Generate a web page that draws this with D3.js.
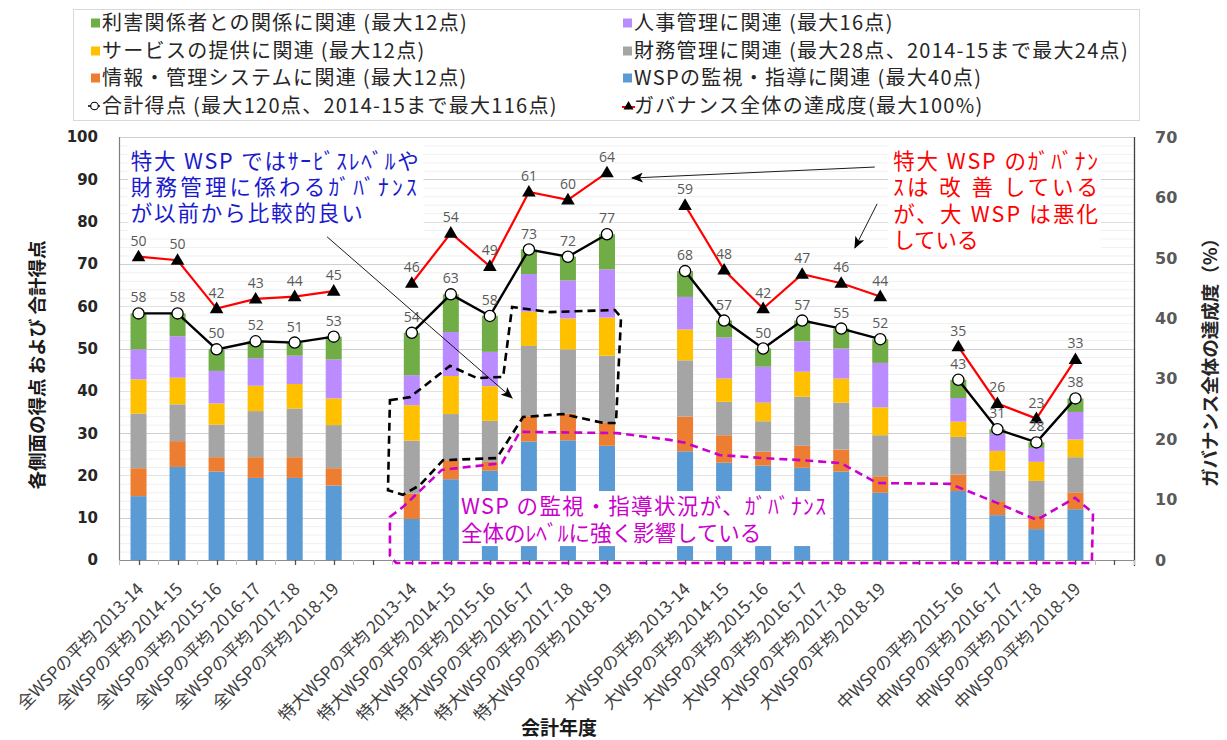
<!DOCTYPE html>
<html>
<head>
<meta charset="utf-8">
<script src="https://cdn.jsdelivr.net/npm/d3@7"></script>
<style>
  body { margin: 0; background: #ffffff; }
  text { font-family: "Noto Sans CJK JP", "Noto Sans", sans-serif; }
</style>
</head>
<body>
<svg id="chart" width="1227" height="740"></svg>
<script>
// ---- data -------------------------------------------------------------
// One slot per category; null marks the empty spacer slot between groups.
const categories = [
  "全WSPの平均 2013-14", "全WSPの平均 2014-15", "全WSPの平均 2015-16",
  "全WSPの平均 2016-17", "全WSPの平均 2017-18", "全WSPの平均 2018-19",
  null,
  "特大WSPの平均 2013-14", "特大WSPの平均 2014-15", "特大WSPの平均 2015-16",
  "特大WSPの平均 2016-17", "特大WSPの平均 2017-18", "特大WSPの平均 2018-19",
  null,
  "大WSPの平均 2013-14", "大WSPの平均 2014-15", "大WSPの平均 2015-16",
  "大WSPの平均 2016-17", "大WSPの平均 2017-18", "大WSPの平均 2018-19",
  null,
  "中WSPの平均 2015-16", "中WSPの平均 2016-17", "中WSPの平均 2017-18", "中WSPの平均 2018-19",
  null
];

// Scores per governance aspect (stacked bottom → top)
const monitoring  = [15.1, 22.0, 20.9, 19.4, 19.4, 17.6, null,  9.7, 19.1, 21.1, 28.0, 28.3, 27.0, null, 25.7, 23.0, 22.3, 21.8, 20.9, 15.9, null, 16.3, 10.6, 7.3, 12.0, null];
const infoSystem  = [ 6.6,  6.1,  3.4,  4.9,  4.9,  4.1, null,  6.0,  4.5,  2.1,  6.0,  6.3,  5.4, null,  8.2,  6.5,  3.3,  5.2,  5.2,  3.9, null,  3.9,  3.3, 3.1,  4.0, null];
const finance     = [12.9,  8.7,  7.7, 10.9, 11.5, 10.2, null, 12.5, 10.9,  9.7, 16.6, 15.2, 15.9, null, 13.3,  7.9,  7.2, 11.6, 11.1,  9.7, null,  8.9,  7.2, 8.3,  8.3, null];
const service     = [ 8.1,  6.3,  5.0,  6.0,  5.8,  6.3, null,  8.4,  9.0,  8.2,  8.1,  7.3,  9.0, null,  7.3,  5.5,  4.4,  5.9,  5.7,  6.6, null,  3.6,  4.7, 4.5,  4.2, null];
const personnel   = [ 7.1,  9.8,  7.7,  6.5,  6.7,  9.2, null,  7.1, 10.4,  8.1,  8.9,  9.0, 11.4, null,  7.7,  9.7,  8.5,  7.2,  7.1, 10.5, null,  5.6,  4.1, 3.3,  6.5, null];
const stakeholder = [ 8.5,  5.4,  5.1,  4.0,  3.1,  5.4, null, 10.0,  8.9,  8.5,  5.8,  5.6,  8.3, null,  6.1,  4.0,  4.3,  4.9,  4.7,  5.6, null,  4.3,  1.0, 1.3,  3.2, null];

// Overall governance achievement (%) – right axis
const achievement = [50.2, 49.6, 41.6, 43.2, 43.6, 44.5, null, 45.8, 54.1, 48.6, 60.9, 59.6, 64.1, null, 58.7, 48.0, 41.6, 47.3, 45.8, 43.6, null, 35.3, 25.9, 23.4, 33.2, null];

const leftTicks  = [0, 10, 20, 30, 40, 50, 60, 70, 80, 90, 100];
const rightTicks = [0, 10, 20, 30, 40, 50, 60, 70];

const seriesNames = {
  stakeholder: "利害関係者との関係に関連 (最大12点)",
  service:     "サービスの提供に関連 (最大12点)",
  infoSystem:  "情報・管理システムに関連 (最大12点)",
  personnel:   "人事管理に関連 (最大16点)",
  finance:     "財務管理に関連 (最大28点、2014-15まで最大24点)",
  monitoring:  "WSPの監視・指導に関連 (最大40点)"
};
const totalName = "合計得点 (最大120点、2014-15まで最大116点)";
const achievementName = "ガバナンス全体の達成度(最大100%)";

// ---- setup ------------------------------------------------------------
const seriesData = { monitoring, infoSystem, finance, service, personnel, stakeholder };
const keys = ["monitoring", "infoSystem", "finance", "service", "personnel", "stakeholder"];
const colors = {
  monitoring: "#5b9bd5", infoSystem: "#ed7d31", finance: "#a5a5a5",
  service: "#ffc000", personnel: "#bb8cff", stakeholder: "#70ad47"
};

const svg = d3.select("#chart");
const plot = { left: 119, right: 1134, top: 137, bottom: 560 };
const n = categories.length;

const x = d3.scaleBand().domain(d3.range(n))
  .range([plot.left, plot.right]).paddingInner(0.59).paddingOuter(0.295);
const cx = i => x(i) + x.bandwidth() / 2;
// continuous slot scale for annotations placed between categories
const slotX = d3.scaleLinear().domain([-0.5, n - 0.5]).range([plot.left, plot.right]);
const yL = d3.scaleLinear().domain([0, 100]).range([plot.bottom, plot.top]);
const yR = d3.scaleLinear().domain([0, 70]).range([plot.bottom, plot.top]);

const table = categories.map((c, i) => {
  const row = { idx: i, cat: c };
  keys.forEach(k => row[k] = seriesData[k][i] == null ? 0 : seriesData[k][i]);
  return row;
});
const totals = categories.map((c, i) =>
  c == null ? null : +keys.reduce((s, k) => s + seriesData[k][i], 0).toFixed(1));

// ---- grid -------------------------------------------------------------
const grid = svg.append("g");
grid.selectAll("line.minor").data(d3.range(0, 101, 2).filter(v => v % 10 !== 0))
  .join("line")
  .attr("x1", plot.left).attr("x2", plot.right)
  .attr("y1", d => yL(d) + 0.5).attr("y2", d => yL(d) + 0.5)
  .attr("stroke", "#f0f0f0").attr("stroke-width", 1);
grid.selectAll("line.major").data(leftTicks.filter(v => v > 0))
  .join("line")
  .attr("x1", plot.left).attr("x2", plot.right)
  .attr("y1", d => Math.round(yL(d)) + 0.5).attr("y2", d => Math.round(yL(d)) + 0.5)
  .attr("stroke", d => (d / 10) % 2 === 1 ? "#cfcfcf" : "#e2e2e2").attr("stroke-width", 1.2);

// ---- stacked bars -----------------------------------------------------
const stacked = d3.stack().keys(keys)(table);
svg.append("g").selectAll("g").data(stacked).join("g")
  .attr("fill", d => colors[d.key])
  .selectAll("rect").data(d => d.filter(p => p.data.cat != null)).join("rect")
  .attr("x", d => x(d.data.idx))
  .attr("width", x.bandwidth())
  .attr("y", d => yL(d[1]))
  .attr("height", d => yL(d[0]) - yL(d[1]));

// ---- axes -------------------------------------------------------------
const axes = svg.append("g");
axes.append("line").attr("x1", plot.left).attr("x2", plot.right)
  .attr("y1", plot.top + 0.5).attr("y2", plot.top + 0.5).attr("stroke", "#d0d0d0");
axes.append("line").attr("x1", plot.left).attr("x2", plot.right)
  .attr("y1", plot.bottom + 0.5).attr("y2", plot.bottom + 0.5).attr("stroke", "#8c8c8c").attr("stroke-width", 1.2);
axes.append("line").attr("x1", plot.left + 0.5).attr("x2", plot.left + 0.5)
  .attr("y1", plot.top).attr("y2", plot.bottom + 1).attr("stroke", "#7f7f7f").attr("stroke-width", 1.2);
axes.append("line").attr("x1", plot.right + 0.5).attr("x2", plot.right + 0.5)
  .attr("y1", plot.top).attr("y2", plot.bottom + 6).attr("stroke", "#404040").attr("stroke-width", 1.3);

// category tick marks
axes.selectAll("line.tb").data(d3.range(n + 1)).join("line")
  .attr("x1", d => Math.round(slotX(d - 0.5)) + 0.5).attr("x2", d => Math.round(slotX(d - 0.5)) + 0.5)
  .attr("y1", plot.bottom).attr("y2", plot.bottom + 5).attr("stroke", "#bfbfbf");
axes.selectAll("line.tc").data(d3.range(n)).join("line")
  .attr("x1", d => Math.round(cx(d)) + 0.5).attr("x2", d => Math.round(cx(d)) + 0.5)
  .attr("y1", plot.bottom).attr("y2", plot.bottom + 5).attr("stroke", "#44546a").attr("stroke-width", 1.3);

// left ticks
axes.selectAll("text.lt").data(leftTicks).join("text")
  .attr("x", 98).attr("y", d => yL(d)).attr("dy", "0.36em")
  .attr("text-anchor", "end")
  .style("font-family", "'DejaVu Sans', sans-serif").style("font-weight", "bold")
  .style("font-size", "15px").attr("fill", "#262626")
  .text(d => d);
// right ticks
axes.selectAll("text.rt").data(rightTicks).join("text")
  .attr("x", 1155).attr("y", d => yR(d)).attr("dy", "0.36em")
  .attr("text-anchor", "start")
  .style("font-family", "'DejaVu Sans', sans-serif").style("font-weight", "bold")
  .style("font-size", "16px").attr("fill", "#595959")
  .text(d => d);

// category labels
axes.selectAll("text.cat").data(categories.map((c, i) => ({ c, i })).filter(d => d.c != null))
  .join("text")
  .attr("transform", d => `translate(${cx(d.i) + 2},${586}) rotate(-45)`)
  .attr("text-anchor", "end").attr("dy", "0.35em")
  .style("font-size", "17px").attr("fill", "#404040")
  .text(d => d.c);

// axis titles
svg.append("text")
  .attr("transform", "translate(38,365) rotate(-90)")
  .attr("text-anchor", "middle").attr("dy", "0.35em")
  .style("font-size", "18.5px").style("font-weight", "bold").attr("fill", "#1a1a1a")
  .text("各側面の得点 および 合計得点");
svg.append("text")
  .attr("transform", "translate(1211,358) rotate(-90)")
  .attr("text-anchor", "middle").attr("dy", "0.35em")
  .style("font-size", "18.5px").style("font-weight", "bold").attr("fill", "#262626")
  .text("ガバナンス全体の達成度（%）");
svg.append("text")
  .attr("x", 559).attr("y", 735).attr("text-anchor", "middle")
  .style("font-size", "19px").style("font-weight", "bold").attr("fill", "#1a1a1a")
  .text("会計年度");

// ---- lines ------------------------------------------------------------
const totalPts = totals.map((v, i) => ({ i, v }));
const achPts = achievement.map((v, i) => ({ i, v }));

svg.append("path").datum(achPts)
  .attr("fill", "none").attr("stroke", "#ff0000").attr("stroke-width", 2.2)
  .attr("d", d3.line().defined(d => d.v != null).x(d => cx(d.i)).y(d => yR(d.v)));
svg.append("path").datum(totalPts)
  .attr("fill", "none").attr("stroke", "#000000").attr("stroke-width", 2.4)
  .attr("d", d3.line().defined(d => d.v != null).x(d => cx(d.i)).y(d => yL(d.v)));

svg.append("g").selectAll("path").data(achPts.filter(d => d.v != null)).join("path")
  .attr("transform", d => `translate(${cx(d.i)},${yR(d.v)})`)
  .attr("d", "M0,-7 L6.8,4.6 L-6.8,4.6 Z").attr("fill", "#000000");
svg.append("g").selectAll("circle").data(totalPts.filter(d => d.v != null)).join("circle")
  .attr("cx", d => cx(d.i)).attr("cy", d => yL(d.v)).attr("r", 5.6)
  .attr("fill", "#ffffff").attr("stroke", "#000000").attr("stroke-width", 1.3);

// value labels
const labelStyle = sel => sel.attr("text-anchor", "middle")
  .style("font-family", "'Open Sans', 'Noto Sans', sans-serif")
  .style("font-size", "14px").attr("fill", "#595959");
svg.append("g").selectAll("text").data(totalPts.filter(d => d.v != null)).join("text")
  .attr("x", d => cx(d.i)).attr("y", d => yL(d.v) - 11)
  .call(labelStyle).text(d => Math.round(d.v));
svg.append("g").selectAll("text").data(achPts.filter(d => d.v != null)).join("text")
  .attr("x", d => cx(d.i)).attr("y", d => yR(d.v) - 11)
  .call(labelStyle).text(d => Math.round(d.v));

// ---- annotations --------------------------------------------------------
const ann = svg.append("g");
const pt = ([s, v]) => [slotX(s), yL(v)];

// text boxes (white background)
function box(s0, s1, v0, v1) {
  ann.append("rect")
    .attr("x", slotX(s0)).attr("y", yL(v1))
    .attr("width", slotX(s1) - slotX(s0)).attr("height", yL(v0) - yL(v1))
    .attr("fill", "#ffffff");
}
box(-0.27, 7.3, 76.6, 98.7);   // blue note
box(19.2, 24.65, 72.3, 98.7);  // red note
box(8.21, 17.71, 3.3, 16.3);   // magenta note

function note(lines, color, s, vBase, lineGap, lengths) {
  lines.forEach((t, k) => {
    const el = ann.append("text")
      .attr("x", slotX(s)).attr("y", yL(vBase) + k * lineGap)
      .style("font-size", "21.5px").attr("fill", color).text(t);
    if (lengths && lengths[k]) el.attr("textLength", lengths[k]).attr("lengthAdjust", "spacing");
  });
}
note(["特大 WSP ではｻｰﾋﾞｽﾚﾍﾞﾙや", "財務管理に係わるｶﾞﾊﾞﾅﾝｽ", "が以前から比較的良い"],
     "#1a1acc", -0.2, 92.4, 26, [288, 286, 232]);
note(["特大 WSP のｶﾞﾊﾞﾅﾝ", "ｽは 改 善 している", "が、大 WSP は悪化", "している"],
     "#ff0000", 19.33, 92.4, 26.3, [205, 205, 205, 0]);
note(["WSP  の監視・指導状況が、ｶﾞﾊﾞﾅﾝｽ", "全体のﾚﾍﾞﾙに強く影響している"],
     "#cc00cc", 8.26, 10.9, 27, [365, 0]);

// dashed outlines
const blackOutline = [[6.44, 37.8], [6.95, 38.5], [7.29, 40.9], [7.98, 45.9], [8.67, 43.0], [9.34, 43.3],
  [9.57, 59.8], [10.54, 58.6], [12.2, 59.1], [12.36, 57.4], [12.23, 32.4], [11.9, 32.4], [10.87, 34.5],
  [9.85, 33.8], [9.18, 24.1], [7.8, 23.6], [7.21, 17.7], [6.77, 15.4], [6.39, 16.5]];
const magentaOutline = [[6.44, 10.2], [6.77, 12.5], [7.77, 21.3], [9.31, 22.9], [9.77, 30.3], [12.26, 30.0],
  [13.61, 28.4], [14.0, 27.7], [14.89, 24.8], [15.99, 24.1], [16.99, 23.6], [17.99, 22.9], [18.92, 18.2],
  [20.79, 18.0], [21.99, 13.5], [23.01, 9.5], [23.99, 14.7], [24.45, 11.1], [24.42, -0.7], [6.6, -0.7], [6.44, 1.0]];

ann.append("path").datum(blackOutline.map(pt))
  .attr("d", d3.line().curve(d3.curveLinearClosed))
  .attr("fill", "none").attr("stroke", "#000000").attr("stroke-width", 2.6)
  .attr("stroke-dasharray", "8,5");
ann.append("path").datum(magentaOutline.map(pt))
  .attr("d", d3.line().curve(d3.curveLinearClosed))
  .attr("fill", "none").attr("stroke", "#cc00cc").attr("stroke-width", 2.6)
  .attr("stroke-dasharray", "8,5");

// arrows
svg.append("defs").append("marker")
  .attr("id", "arrowhead").attr("viewBox", "0 0 12 10")
  .attr("refX", 11).attr("refY", 5).attr("markerWidth", 12).attr("markerHeight", 10)
  .attr("markerUnits", "userSpaceOnUse").attr("orient", "auto")
  .append("path").attr("d", "M0,0 L12,5 L0,10 L3,5 Z").attr("fill", "#000000");
const arrows = [
  [[4.83, 76.4], [9.57, 38.3]],
  [[18.86, 92.9], [12.64, 90.3]],
  [[18.92, 84.2], [18.35, 73.8]]
];
ann.selectAll("line.arrow").data(arrows).join("line")
  .attr("x1", d => pt(d[0])[0]).attr("y1", d => pt(d[0])[1])
  .attr("x2", d => pt(d[1])[0]).attr("y2", d => pt(d[1])[1])
  .attr("stroke", "#000000").attr("stroke-width", 0.9)
  .attr("marker-end", "url(#arrowhead)");

// ---- legend -----------------------------------------------------------
const lg = svg.append("g");
lg.append("rect").attr("x", 73.5).attr("y", 9.5).attr("width", 1066).attr("height", 111)
  .attr("fill", "#ffffff").attr("stroke", "#d9d9d9");
const legendItems = [
  { col: 0, row: 0, key: "stakeholder" },
  { col: 0, row: 1, key: "service" },
  { col: 0, row: 2, key: "infoSystem" },
  { col: 0, row: 3, key: "total" },
  { col: 1, row: 0, key: "personnel" },
  { col: 1, row: 1, key: "finance" },
  { col: 1, row: 2, key: "monitoring" },
  { col: 1, row: 3, key: "achievement" }
];
const colX = [91, 623], rowY = [23, 51, 78, 106];
legendItems.forEach(it => {
  const x0 = colX[it.col], y0 = rowY[it.row];
  let label;
  if (it.key === "total") {
    lg.append("line").attr("x1", x0 - 3).attr("x2", x0 + 9).attr("y1", y0).attr("y2", y0)
      .attr("stroke", "#000").attr("stroke-width", 1.5);
    lg.append("circle").attr("cx", x0 + 3.5).attr("cy", y0).attr("r", 3.8)
      .attr("fill", "#fff").attr("stroke", "#000").attr("stroke-width", 1.1);
    label = totalName;
  } else if (it.key === "achievement") {
    lg.append("line").attr("x1", x0 - 1).attr("x2", x0 + 12).attr("y1", y0 + 1).attr("y2", y0 + 1)
      .attr("stroke", "#ff0000").attr("stroke-width", 2);
    lg.append("path").attr("transform", `translate(${x0 + 5.5},${y0})`)
      .attr("d", "M0,-5 L5,3.6 L-5,3.6 Z").attr("fill", "#000");
    label = achievementName;
  } else {
    lg.append("rect").attr("x", x0).attr("y", y0 - 4.5).attr("width", 9).attr("height", 9)
      .attr("fill", colors[it.key]);
    label = seriesNames[it.key];
  }
  lg.append("text").attr("x", x0 + 11).attr("y", y0).attr("dy", "0.36em")
    .style("font-size", "20px").style("letter-spacing", "1.3px")
    .attr("fill", "#262626").text(label);
});
</script>
</body>
</html>
